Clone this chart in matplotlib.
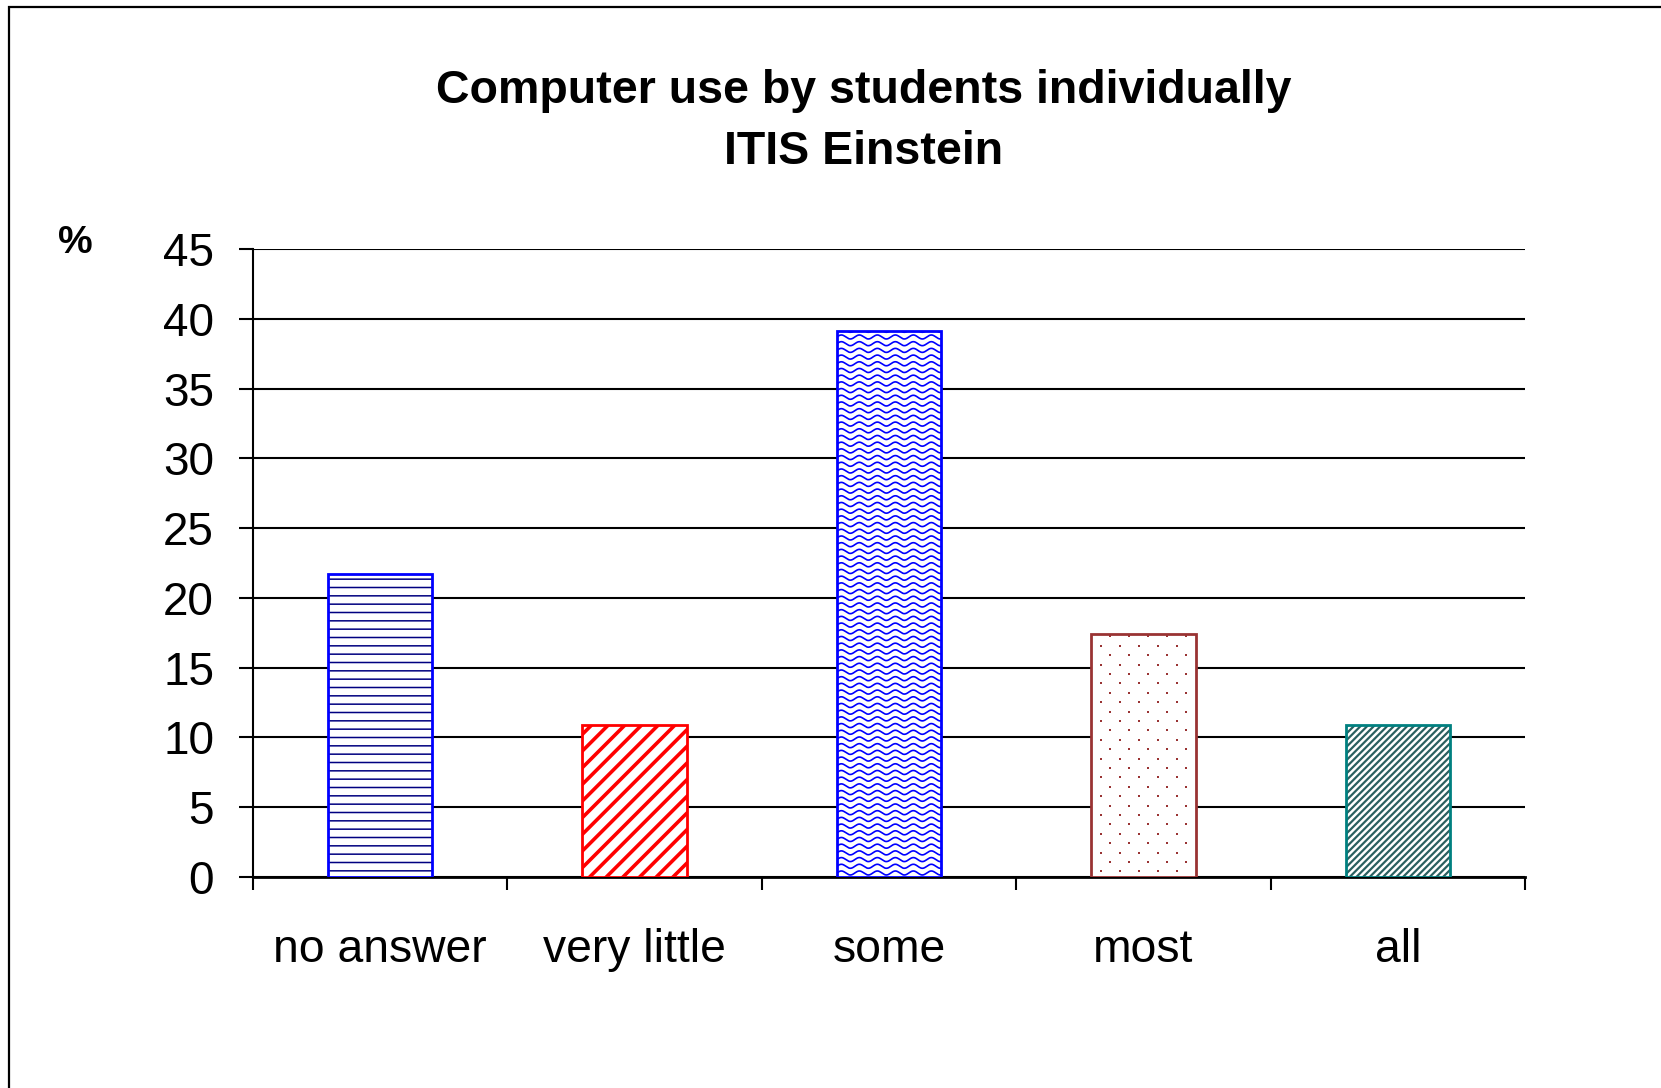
import numpy as np
import matplotlib
matplotlib.use("Agg")
import matplotlib.pyplot as plt
from matplotlib.patches import Rectangle

categories = ["no answer", "very little", "some", "most", "all"]
percent = [21.74, 10.87, 39.13, 17.39, 10.87]
y_ticks = [0, 5, 10, 15, 20, 25, 30, 35, 40, 45]
title_lines = ["Computer use by students individually", "ITIS Einstein"]

edge_colors = ["#0000FF", "#FF0000", "#0000FF", "#993333", "#008080"]
hatch_colors = ["#000080", "#FF0000", "#0000FF", "#993333", "#2A5F5F"]
hatches = ["--", "//", None, None, "/////"]
hatch_widths = [1.1, 2.6, 1.2, 1.0, 1.6]

plt.rcParams["font.family"] = ["Liberation Sans", "DejaVu Sans"]

W, H = 1661, 1088
fig = plt.figure(figsize=(W / 100, H / 100), dpi=100)
ax_rect = [253 / W, 1 - 877 / H, (1525 - 253) / W, (877 - 249) / H]
ax = fig.add_axes(ax_rect)

x = np.arange(len(categories))
width = 0.41
bars = []
for i in range(len(categories)):
    with plt.rc_context({"hatch.linewidth": hatch_widths[i]}):
        b = ax.bar(x[i], percent[i], width, color="white", edgecolor=hatch_colors[i],
                   hatch=hatches[i], linewidth=0, zorder=3)[0]
    if hasattr(b, "set_hatch_linewidth"):
        b.set_hatch_linewidth(hatch_widths[i])
    bars.append(b)
    ax.bar(x[i], percent[i], width, fill=False, edgecolor=edge_colors[i],
           linewidth=2, zorder=5)

px_per_x = ax_rect[2] * W / len(categories)
px_per_y = ax_rect[3] * H / 45

# wavy texture for the "some" bar
row_step = 6.7 / px_per_y
amp = 2.0 / px_per_y
period = 18.0 / px_per_x
x0 = x[2] - width / 2
xs = np.linspace(x0, x[2] + width / 2, 600)
for r in np.arange(row_step * 0.6, percent[2] + row_step, row_step):
    ln, = ax.plot(xs, r + amp * np.sin(2 * np.pi * (xs - x0) / period),
                  color=hatch_colors[2], lw=1.2, zorder=4)
    ln.set_clip_path(bars[2])

# staggered dot texture for the "most" bar
dx = 19.0 / px_per_x
dy = 9.4 / px_per_y
left = x[3] - width / 2
dot_x, dot_y = [], []
for k, r in enumerate(np.arange(dy * 0.6, percent[3], dy)):
    start = left + (dx * 0.5 if k % 2 == 0 else dx)
    for c in np.arange(start, x[3] + width / 2, dx):
        dot_x.append(c)
        dot_y.append(r)
dots = ax.scatter(dot_x, dot_y, s=3.8, color=hatch_colors[3], marker="s",
                  linewidths=0, zorder=4)
dots.set_clip_path(bars[3])

ax.set_xlim(-0.5, len(categories) - 0.5)
ax.set_ylim(0, 45)
ax.set_yticks(y_ticks)
ax.yaxis.grid(True, color="black", lw=1.5)
ax.set_axisbelow(True)
ax.tick_params(axis="y", length=10, width=1.5, pad=18, labelsize=33)

ax.set_xticks(x, categories)
ax.set_xticks(np.arange(-0.5, len(categories), 1), minor=True)
ax.tick_params(axis="x", which="major", length=0, pad=37, labelsize=33.3)
ax.tick_params(axis="x", which="minor", length=9, width=1.5)

for s in ["top", "right"]:
    ax.spines[s].set_visible(False)
ax.spines["left"].set_linewidth(1.5)
ax.spines["bottom"].set_linewidth(2)

fig.text(0.52, 1 - 103 / H, title_lines[0], ha="center", va="baseline",
         fontsize=33.5, weight="bold")
fig.text(0.52, 1 - 164 / H, title_lines[1], ha="center", va="baseline",
         fontsize=33.5, weight="bold")
fig.text(75 / W, 1 - 253 / H, "%", ha="center", va="baseline", fontsize=28, weight="bold")

frame = Rectangle((9 / W, -0.1), 1.2, 1.1 - 7 / H, transform=fig.transFigure,
                  fill=False, edgecolor="black", lw=1.6, clip_on=False)
fig.patches.append(frame)

fig.savefig("out.png", dpi=100)
